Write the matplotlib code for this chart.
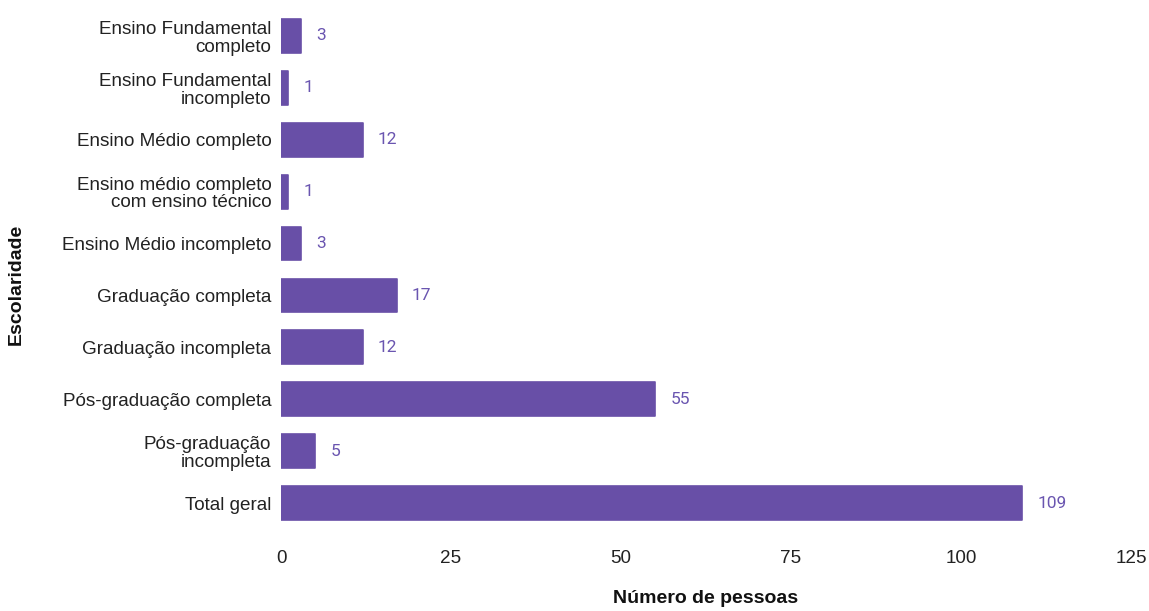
import numpy as np
import matplotlib.pyplot as plt

# Escolaridade dos participantes
categorias = [
    "Ensino Fundamental\ncompleto",
    "Ensino Fundamental\nincompleto",
    "Ensino Médio completo",
    "Ensino médio completo\ncom ensino técnico",
    "Ensino Médio incompleto",
    "Graduação completa",
    "Graduação incompleta",
    "Pós-graduação completa",
    "Pós-graduação\nincompleta",
    "Total geral",
]
pessoas = [3, 1, 12, 1, 3, 17, 12, 55, 5, 109]
xticks = [0, 25, 50, 75, 100, 125]

cor = "#684fa7"

fig = plt.figure(figsize=(11.49, 6.11), dpi=100)
ax = fig.add_axes([0.2446, 0.1342, 0.7397, 0.8494])

y = np.arange(len(categorias))
ax.barh(y, pessoas, height=0.65, color=cor, edgecolor=cor, linewidth=1.2,
        joinstyle="round")

for yi, v in zip(y, pessoas):
    ax.annotate(str(v), (v, yi), xytext=(11, 0), textcoords="offset points",
                va="center", ha="left", fontsize=12.5, color="#6a55b0",
                family="Roboto")

ax.set_ylim(len(categorias) - 0.5, -0.5)
ax.set_xlim(0, 125)
ax.set_xticks(xticks)
ax.set_yticks(y)
ax.set_yticklabels(categorias, family="Liberation Sans", fontsize=13.6,
                   color="#222222", linespacing=1.05)
for lab in ax.get_xticklabels():
    lab.set_family("Liberation Sans")
    lab.set_fontsize(13.6)
    lab.set_color("#222222")
ax.tick_params(axis="y", length=0, pad=7)
ax.tick_params(axis="x", length=0, pad=15)
for s in ax.spines.values():
    s.set_visible(False)

ax.set_xlabel("Número de pessoas", family="Liberation Sans", fontsize=14,
              fontweight="bold", color="#111111")
ax.xaxis.set_label_coords(0.5, -0.118)
ax.set_ylabel("Escolaridade", family="Liberation Sans", fontsize=14,
              fontweight="bold", color="#111111")
ax.yaxis.set_label_coords(-0.302, 0.472)

fig.savefig("out.png", dpi=100)
